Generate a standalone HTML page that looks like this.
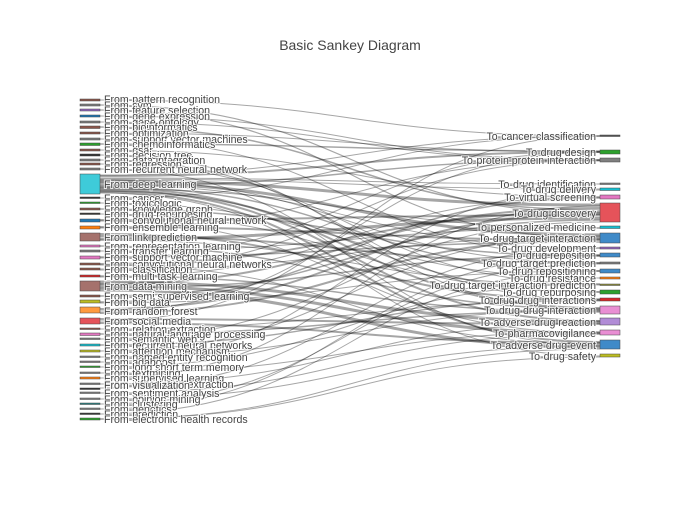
<!DOCTYPE html>
<html><head><meta charset="utf-8"><style>
body{margin:0;background:#fff}
svg text{font-family:"Liberation Sans",sans-serif;font-size:10.6px;fill:#444;stroke:#fff;stroke-width:2px;paint-order:stroke;stroke-opacity:.8}
.l path{fill:none;stroke:#000;stroke-opacity:.35}
.n rect{stroke:#444;stroke-width:.5}
</style></head><body>
<svg width="700" height="500" xmlns="http://www.w3.org/2000/svg">
<text x="350" y="50" text-anchor="middle" style="font-size:14px;stroke:none">Basic Sankey Diagram</text>
<g class="l">
<path d="M100,100 C350,100 350,136 600,136" stroke-width="1"/>
<path d="M100,105 C350,105 350,213 600,213" stroke-width="1.2"/>
<path d="M100,110 C350,110 350,238 600,238" stroke-width="1.2"/>
<path d="M100,116 C350,116 350,160 600,160" stroke-width="1"/>
<path d="M100,122 C350,122 350,161 600,161" stroke-width="1"/>
<path d="M100,127 C350,127 350,210 600,210" stroke-width="1.5"/>
<path d="M100,133 C350,133 350,152 600,152" stroke-width="1"/>
<path d="M100,139 C350,139 350,256 600,256" stroke-width="1"/>
<path d="M100,144 C350,144 350,151 600,151" stroke-width="1.5"/>
<path d="M100,150 C350,150 350,197 600,197" stroke-width="1"/>
<path d="M100,155 C350,155 350,310 600,310" stroke-width="1"/>
<path d="M100,160 C350,160 350,300 600,300" stroke-width="1"/>
<path d="M100,164 C350,164 350,284 600,284" stroke-width="1"/>
<path d="M100,169 C350,169 350,345 600,345" stroke-width="1"/>
<path d="M100,175 C350,175 350,136 600,136" stroke-width="1"/>
<path d="M100,176 C350,176 350,152 600,152" stroke-width="2"/>
<path d="M100,178 C350,178 350,184 600,184" stroke-width="1"/>
<path d="M100,179 C350,179 350,189 600,189" stroke-width="1"/>
<path d="M100,181 C350,181 350,205 600,205" stroke-width="3"/>
<path d="M100,183 C350,183 350,235 600,235" stroke-width="3"/>
<path d="M100,185 C350,185 350,248 600,248" stroke-width="1"/>
<path d="M100,187 C350,187 350,271 600,271" stroke-width="1.5"/>
<path d="M100,188 C350,188 350,308 600,308" stroke-width="2"/>
<path d="M100,190 C350,190 350,321 600,321" stroke-width="2"/>
<path d="M100,192 C350,192 350,342 600,342" stroke-width="2"/>
<path d="M100,193 C350,193 350,356 600,356" stroke-width="1"/>
<path d="M100,186 C350,186 350,160 600,160" stroke-width="1.5"/>
<path d="M100,189 C350,189 350,228 600,228" stroke-width="1"/>
<path d="M100,191 C350,191 350,292 600,292" stroke-width="1.5"/>
<path d="M100,180 C350,180 350,263 600,263" stroke-width="1"/>
<path d="M100,198 C350,198 350,136 600,136" stroke-width="1"/>
<path d="M100,203 C350,203 350,278 600,278" stroke-width="1"/>
<path d="M100,209 C350,209 350,256 600,256" stroke-width="1.5"/>
<path d="M100,214 C350,214 350,292 600,292" stroke-width="1"/>
<path d="M100,220 C350,220 350,215 600,215" stroke-width="2"/>
<path d="M100,221 C350,221 350,333 600,333" stroke-width="1"/>
<path d="M100,227 C350,227 350,240 600,240" stroke-width="2"/>
<path d="M100,228 C350,228 350,160 600,160" stroke-width="1"/>
<path d="M100,234 C350,234 350,300 600,300" stroke-width="2"/>
<path d="M100,236 C350,236 350,263 600,263" stroke-width="2"/>
<path d="M100,239 C350,239 350,218 600,218" stroke-width="3"/>
<path d="M100,240 C350,240 350,285 600,285" stroke-width="1"/>
<path d="M100,246 C350,246 350,309 600,309" stroke-width="1.5"/>
<path d="M100,251 C350,251 350,228 600,228" stroke-width="1"/>
<path d="M100,257 C350,257 350,242 600,242" stroke-width="1.5"/>
<path d="M100,258 C350,258 350,152 600,152" stroke-width="1"/>
<path d="M100,264 C350,264 350,212 600,212" stroke-width="2"/>
<path d="M100,265 C350,265 350,344 600,344" stroke-width="1"/>
<path d="M100,269 C350,269 350,160 600,160" stroke-width="1"/>
<path d="M100,270 C350,270 350,237 600,237" stroke-width="1"/>
<path d="M100,276 C350,276 350,312 600,312" stroke-width="1.5"/>
<path d="M100,277 C350,277 350,197 600,197" stroke-width="1"/>
<path d="M100,282 C350,282 350,322 600,322" stroke-width="3"/>
<path d="M100,284 C350,284 350,208 600,208" stroke-width="2"/>
<path d="M100,286 C350,286 350,333 600,333" stroke-width="3"/>
<path d="M100,288 C350,288 350,255 600,255" stroke-width="1.5"/>
<path d="M100,290 C350,290 350,347 600,347" stroke-width="3"/>
<path d="M100,296 C350,296 350,220 600,220" stroke-width="1.5"/>
<path d="M100,302 C350,302 350,198 600,198" stroke-width="1.5"/>
<path d="M100,303 C350,303 350,271 600,271" stroke-width="1"/>
<path d="M100,309 C350,309 350,214 600,214" stroke-width="2"/>
<path d="M100,311 C350,311 350,152 600,152" stroke-width="1"/>
<path d="M100,313 C350,313 350,239 600,239" stroke-width="2"/>
<path d="M100,319 C350,319 350,324 600,324" stroke-width="2"/>
<path d="M100,321 C350,321 350,136 600,136" stroke-width="1"/>
<path d="M100,323 C350,323 350,343 600,343" stroke-width="2"/>
<path d="M100,329 C350,329 350,301 600,301" stroke-width="1"/>
<path d="M100,334 C350,334 350,311 600,311" stroke-width="1.5"/>
<path d="M100,339 C350,339 350,222 600,222" stroke-width="1"/>
<path d="M100,345 C350,345 350,299 600,299" stroke-width="1.5"/>
<path d="M100,351 C350,351 350,236 600,236" stroke-width="1"/>
<path d="M100,357 C350,357 350,310 600,310" stroke-width="1"/>
<path d="M100,362 C350,362 350,190 600,190" stroke-width="1"/>
<path d="M100,367 C350,367 350,284 600,284" stroke-width="1"/>
<path d="M100,373 C350,373 350,332 600,332" stroke-width="1"/>
<path d="M100,378 C350,378 350,206 600,206" stroke-width="1"/>
<path d="M100,384 C350,384 350,323 600,323" stroke-width="1"/>
<path d="M100,388 C350,388 350,248 600,248" stroke-width="1"/>
<path d="M100,393 C350,393 350,334 600,334" stroke-width="1"/>
<path d="M100,399 C350,399 350,346 600,346" stroke-width="1"/>
<path d="M100,404 C350,404 350,264 600,264" stroke-width="1"/>
<path d="M100,409 C350,409 350,255 600,255" stroke-width="1"/>
<path d="M100,414 C350,414 350,271 600,271" stroke-width="1"/>
<path d="M100,419 C350,419 350,349 600,349" stroke-width="1"/>
<path d="M100,419 C350,419 350,357 600,357" stroke-width="1"/>
</g>
<g class="n">
<rect x="80" y="99" width="20" height="2" fill="#8c564b"/>
<rect x="80" y="104" width="20" height="2" fill="#7f7f7f"/>
<rect x="80" y="109" width="20" height="2" fill="#9467bd"/>
<rect x="80" y="115" width="20" height="2" fill="#1f77b4"/>
<rect x="80" y="121" width="20" height="2" fill="#7f7f7f"/>
<rect x="80" y="126" width="20" height="2.5" fill="#8c564b"/>
<rect x="80" y="132" width="20" height="2" fill="#8c564b"/>
<rect x="80" y="138" width="20" height="2" fill="#7f7f7f"/>
<rect x="80" y="143" width="20" height="2.5" fill="#2ca02c"/>
<rect x="80" y="149" width="20" height="2" fill="#8c564b"/>
<rect x="80" y="154" width="20" height="2" fill="#333"/>
<rect x="80" y="159" width="20" height="2" fill="#7f7f7f"/>
<rect x="80" y="163" width="20" height="2" fill="#8c564b"/>
<rect x="80" y="168" width="20" height="2" fill="#7f7f7f"/>
<rect x="80" y="174" width="20" height="20" fill="#3ecbd9"/>
<rect x="80" y="197" width="20" height="1.5" fill="#333"/>
<rect x="80" y="202" width="20" height="1.5" fill="#2ca02c"/>
<rect x="80" y="208" width="20" height="2" fill="#8c564b"/>
<rect x="80" y="213" width="20" height="1.5" fill="#333"/>
<rect x="80" y="219" width="20" height="3" fill="#1f77b4"/>
<rect x="80" y="226" width="20" height="3" fill="#ff7f0e"/>
<rect x="80" y="233" width="20" height="8" fill="#a5726c"/>
<rect x="80" y="245" width="20" height="2" fill="#e377c2"/>
<rect x="80" y="250" width="20" height="2" fill="#7f7f7f"/>
<rect x="80" y="256" width="20" height="3" fill="#e377c2"/>
<rect x="80" y="263" width="20" height="2" fill="#8c564b"/>
<rect x="80" y="268" width="20" height="2" fill="#8c564b"/>
<rect x="80" y="275" width="20" height="2" fill="#d62728"/>
<rect x="80" y="281" width="20" height="10" fill="#a5726c"/>
<rect x="80" y="295" width="20" height="2" fill="#8c564b"/>
<rect x="80" y="300" width="20" height="3" fill="#bcbd22"/>
<rect x="80" y="307" width="20" height="6" fill="#ff9a3e"/>
<rect x="80" y="318" width="20" height="6" fill="#e5535a"/>
<rect x="80" y="328" width="20" height="1.5" fill="#8c564b"/>
<rect x="80" y="333" width="20" height="2.5" fill="#e377c2"/>
<rect x="80" y="338" width="20" height="1.5" fill="#7f7f7f"/>
<rect x="80" y="344" width="20" height="2" fill="#17becf"/>
<rect x="80" y="350" width="20" height="2" fill="#bcbd22"/>
<rect x="80" y="356" width="20" height="1.5" fill="#7f7f7f"/>
<rect x="80" y="361" width="20" height="1.5" fill="#7f7f7f"/>
<rect x="80" y="366" width="20" height="1.5" fill="#2ca02c"/>
<rect x="80" y="372" width="20" height="1.5" fill="#7f7f7f"/>
<rect x="80" y="377" width="20" height="2" fill="#ff7f0e"/>
<rect x="80" y="383" width="20" height="1.5" fill="#7f7f7f"/>
<rect x="80" y="388" width="20" height="1.5" fill="#333"/>
<rect x="80" y="392" width="20" height="1.5" fill="#7f7f7f"/>
<rect x="80" y="398" width="20" height="1.5" fill="#7f7f7f"/>
<rect x="80" y="403" width="20" height="1.5" fill="#2a7f7f"/>
<rect x="80" y="408" width="20" height="1.5" fill="#7f7f7f"/>
<rect x="80" y="413" width="20" height="1.5" fill="#333"/>
<rect x="80" y="418" width="20" height="2" fill="#2ca02c"/>

<rect x="600" y="135" width="20" height="1.5" fill="#555"/>
<rect x="600" y="150" width="20" height="4" fill="#2ca02c"/>
<rect x="600" y="158" width="20" height="4" fill="#7f7f7f"/>
<rect x="600" y="183" width="20" height="1.5" fill="#7f7f7f"/>
<rect x="600" y="188" width="20" height="2.5" fill="#17becf"/>
<rect x="600" y="195" width="20" height="4" fill="#e377c2"/>
<rect x="600" y="203" width="20" height="19" fill="#e5535a"/>
<rect x="600" y="226" width="20" height="2.5" fill="#17becf"/>
<rect x="600" y="233" width="20" height="10" fill="#3f8ac8"/>
<rect x="600" y="247" width="20" height="2" fill="#9467bd"/>
<rect x="600" y="253" width="20" height="4" fill="#3f8ac8"/>
<rect x="600" y="262" width="20" height="2" fill="#7f7f7f"/>
<rect x="600" y="269" width="20" height="4" fill="#3f8ac8"/>
<rect x="600" y="277" width="20" height="2" fill="#ff7f0e"/>
<rect x="600" y="284" width="20" height="1.5" fill="#8c8c3a"/>
<rect x="600" y="290" width="20" height="4" fill="#2ca02c"/>
<rect x="600" y="298" width="20" height="3" fill="#d62728"/>
<rect x="600" y="306" width="20" height="8" fill="#e98ed3"/>
<rect x="600" y="318" width="20" height="7" fill="#b18cd6"/>
<rect x="600" y="330" width="20" height="5" fill="#e98ed3"/>
<rect x="600" y="340" width="20" height="9" fill="#3f8ac8"/>
<rect x="600" y="354" width="20" height="3" fill="#bcbd22"/>
</g>
<g text-anchor="start">
<text x="104" y="103">From-pattern recognition</text>
<text x="104" y="109">From-svm</text>
<text x="104" y="114">From-feature selection</text>
<text x="104" y="120">From-gene expression</text>
<text x="104" y="126">From-gene ontology</text>
<text x="104" y="131">From-bioinformatics</text>
<text x="104" y="137">From-optimization</text>
<text x="104" y="143">From-support vector machines</text>
<text x="104" y="148">From-chemoinformatics</text>
<text x="104" y="154">From-qsar</text>
<text x="104" y="159">From-decision tree</text>
<text x="104" y="164">From-data integration</text>
<text x="104" y="168">From-regression</text>
<text x="104" y="173">From-recurrent neural network</text>
<text x="104" y="188">From-deep learning</text>
<text x="104" y="202">From-cancer</text>
<text x="104" y="207">From-toxicologic</text>
<text x="104" y="213">From-knowledge graph</text>
<text x="104" y="218">From-drug repurposing</text>
<text x="104" y="224">From-convolutional neural network</text>
<text x="104" y="231">From-ensemble learning</text>
<text x="104" y="241">From-link prediction</text>
<text x="104" y="250">From-representation learning</text>
<text x="104" y="255">From-transfer learning</text>
<text x="104" y="261">From-support vector machine</text>
<text x="104" y="268">From-convolutional neural networks</text>
<text x="104" y="273">From-classification</text>
<text x="104" y="280">From-multi task learning</text>
<text x="104" y="290">From-data mining</text>
<text x="104" y="300">From-semi supervised learning</text>
<text x="104" y="306">From-big data</text>
<text x="104" y="315">From-random forest</text>
<text x="104" y="325">From-social media</text>
<text x="104" y="333">From-relation extraction</text>
<text x="104" y="338">From-natural language processing</text>
<text x="104" y="343">From-semantic web</text>
<text x="104" y="349">From-recurrent neural networks</text>
<text x="104" y="355">From-attention mechanism</text>
<text x="104" y="361">From-named entity recognition</text>
<text x="104" y="366">From-adaboost</text>
<text x="104" y="371">From-long short term memory</text>
<text x="104" y="377">From-textmining</text>
<text x="104" y="382">From-supervised learning</text>
<text x="104" y="388">From-information extraction</text>
<text x="104" y="389">From-visualization</text>
<text x="104" y="397">From-sentiment analysis</text>
<text x="104" y="403">From-opinion mining</text>
<text x="104" y="408">From-clustering</text>
<text x="104" y="413">From-genetics</text>
<text x="104" y="418">From-prediction</text>
<text x="104" y="423">From-electronic health records</text>
</g>
<g text-anchor="end">
<text x="596" y="140">To-cancer classification</text>
<text x="596" y="156">To-drug design</text>
<text x="596" y="164">To-protein protein interaction</text>
<text x="596" y="188">To-drug identification</text>
<text x="596" y="193">To-drug delivery</text>
<text x="596" y="201">To-virtual screening</text>
<text x="596" y="217">To-drug discovery</text>
<text x="596" y="231">To-personalized medicine</text>
<text x="596" y="242">To-drug target interaction</text>
<text x="596" y="252">To-drug development</text>
<text x="596" y="259">To-drug reposition</text>
<text x="596" y="267">To-drug target prediction</text>
<text x="596" y="275">To-drug repositioning</text>
<text x="596" y="282">To-drug resistance</text>
<text x="596" y="289">To-drug target interaction prediction</text>
<text x="596" y="296">To-drug repurposing</text>
<text x="596" y="304">To-drug drug interactions</text>
<text x="596" y="314">To-drug drug interaction</text>
<text x="596" y="326">To-adverse drug reaction</text>
<text x="596" y="337">To-pharmacovigilance</text>
<text x="596" y="349">To-adverse drug event</text>
<text x="596" y="360">To-drug safety</text>
</g>
</svg>
</body></html>
